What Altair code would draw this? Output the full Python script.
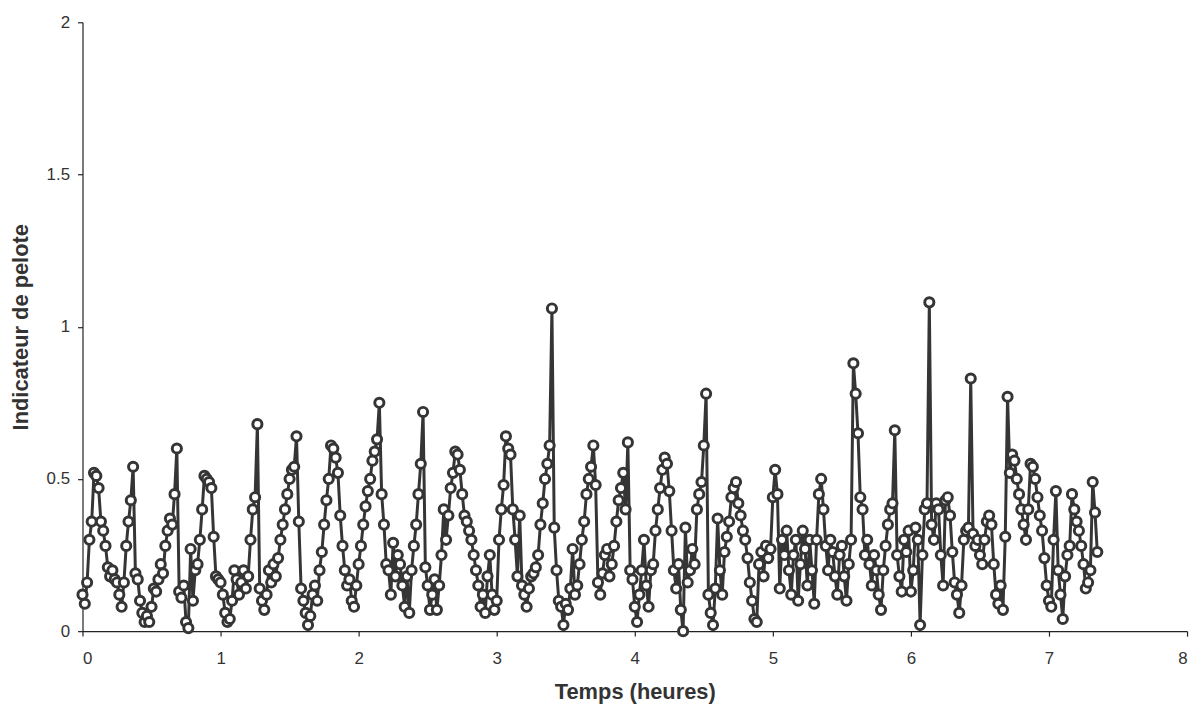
import altair as alt
import pandas as pd

# Indicateur de pelote, one reading per minute
hour0 = [0.12, 0.09, 0.16, 0.30, 0.36, 0.52, 0.51, 0.47, 0.36, 0.33,
         0.28, 0.21, 0.18, 0.20, 0.17, 0.16, 0.12, 0.08, 0.16, 0.28,
         0.36, 0.43, 0.54, 0.19, 0.17, 0.10, 0.06, 0.03, 0.05, 0.03,
         0.08, 0.14, 0.13, 0.17, 0.22, 0.19, 0.28, 0.33, 0.37, 0.35,
         0.45, 0.60, 0.13, 0.11, 0.15, 0.03, 0.01, 0.27, 0.10, 0.20,
         0.22, 0.30, 0.40, 0.51, 0.50, 0.49, 0.47, 0.31, 0.18, 0.17]
hour1 = [0.16, 0.12, 0.06, 0.03, 0.04, 0.10, 0.20, 0.17, 0.12, 0.16,
         0.20, 0.14, 0.18, 0.30, 0.40, 0.44, 0.68, 0.14, 0.10, 0.07,
         0.12, 0.20, 0.16, 0.22, 0.18, 0.24, 0.30, 0.35, 0.40, 0.45,
         0.50, 0.53, 0.54, 0.64, 0.36, 0.14, 0.10, 0.06, 0.02, 0.05,
         0.12, 0.15, 0.10, 0.20, 0.26, 0.35, 0.43, 0.50, 0.61, 0.60,
         0.57, 0.52, 0.38, 0.28, 0.20, 0.15, 0.17, 0.10, 0.08, 0.15]
hour2 = [0.22, 0.28, 0.35, 0.41, 0.46, 0.50, 0.56, 0.59, 0.63, 0.75,
         0.45, 0.35, 0.22, 0.20, 0.12, 0.29, 0.18, 0.25, 0.22, 0.15,
         0.08, 0.18, 0.06, 0.20, 0.28, 0.35, 0.45, 0.55, 0.72, 0.21,
         0.15, 0.07, 0.12, 0.17, 0.07, 0.15, 0.25, 0.40, 0.30, 0.38,
         0.47, 0.52, 0.59, 0.58, 0.53, 0.45, 0.38, 0.36, 0.33, 0.30,
         0.25, 0.20, 0.15, 0.08, 0.12, 0.06, 0.18, 0.25, 0.12, 0.07]
hour3 = [0.10, 0.30, 0.40, 0.48, 0.64, 0.60, 0.58, 0.40, 0.30, 0.18,
         0.38, 0.15, 0.12, 0.08, 0.14, 0.18, 0.19, 0.21, 0.25, 0.35,
         0.42, 0.50, 0.55, 0.61, 1.06, 0.34, 0.20, 0.10, 0.08, 0.02,
         0.09, 0.07, 0.14, 0.27, 0.12, 0.15, 0.22, 0.30, 0.36, 0.45,
         0.50, 0.54, 0.61, 0.48, 0.16, 0.12, 0.19, 0.25, 0.27, 0.18,
         0.22, 0.28, 0.36, 0.43, 0.47, 0.52, 0.40, 0.62, 0.20, 0.17]
hour4 = [0.08, 0.03, 0.12, 0.20, 0.30, 0.15, 0.08, 0.20, 0.22, 0.33,
         0.40, 0.47, 0.53, 0.57, 0.55, 0.46, 0.33, 0.20, 0.14, 0.22,
         0.07, 0.00, 0.34, 0.16, 0.20, 0.27, 0.22, 0.40, 0.45, 0.49,
         0.61, 0.78, 0.12, 0.06, 0.02, 0.14, 0.37, 0.20, 0.12, 0.26,
         0.31, 0.36, 0.44, 0.47, 0.49, 0.42, 0.38, 0.33, 0.30, 0.24,
         0.16, 0.10, 0.04, 0.03, 0.22, 0.26, 0.18, 0.28, 0.24, 0.27]
hour5 = [0.44, 0.53, 0.45, 0.14, 0.30, 0.25, 0.33, 0.20, 0.12, 0.25,
         0.30, 0.10, 0.22, 0.33, 0.27, 0.15, 0.30, 0.20, 0.09, 0.30,
         0.45, 0.50, 0.40, 0.28, 0.20, 0.30, 0.26, 0.18, 0.12, 0.25,
         0.28, 0.18, 0.10, 0.22, 0.30, 0.88, 0.78, 0.65, 0.44, 0.40,
         0.25, 0.30, 0.22, 0.15, 0.25, 0.20, 0.12, 0.07, 0.20, 0.28,
         0.35, 0.40, 0.42, 0.66, 0.25, 0.18, 0.13, 0.30, 0.26, 0.33]
hour6 = [0.13, 0.20, 0.34, 0.30, 0.02, 0.25, 0.40, 0.42, 1.08, 0.35,
         0.30, 0.42, 0.40, 0.25, 0.15, 0.43, 0.44, 0.38, 0.26, 0.16,
         0.12, 0.06, 0.15, 0.30, 0.33, 0.34, 0.83, 0.32, 0.28, 0.30,
         0.25, 0.22, 0.30, 0.36, 0.38, 0.35, 0.22, 0.12, 0.09, 0.15,
         0.07, 0.31, 0.77, 0.52, 0.58, 0.56, 0.50, 0.45, 0.40, 0.35,
         0.30, 0.40, 0.55, 0.54, 0.50, 0.44, 0.38, 0.33, 0.24, 0.15]
hour7 = [0.10, 0.08, 0.30, 0.46, 0.20, 0.12, 0.04, 0.18, 0.25, 0.28,
         0.45, 0.40, 0.36, 0.33, 0.28, 0.22, 0.14, 0.16, 0.20, 0.49,
         0.39, 0.26]

x_ticks = [0, 1, 2, 3, 4, 5, 6, 7, 8]
y_ticks = [0, 0.5, 1, 1.5, 2]

values = hour0 + hour1 + hour2 + hour3 + hour4 + hour5 + hour6 + hour7
minutes = list(range(len(values)))
df = pd.DataFrame({"minute": minutes, "value": values})

INK = "#353535"
TXT = "#333333"
FONT = "Liberation Sans"

x_enc = alt.X("t:Q",
              scale=alt.Scale(domain=[0, 8], nice=False, zero=True),
              axis=alt.Axis(values=x_ticks, title="Temps (heures)", grid=False,
                            tickSize=5, labelPadding=15, titlePadding=15,
                            format="d"))
y_enc = alt.Y("value:Q",
              scale=alt.Scale(domain=[0, 2], nice=False),
              axis=alt.Axis(values=y_ticks, title="Indicateur de pelote", grid=False,
                            tickSize=5, labelPadding=8, titlePadding=14,
                            format=".1~f"))

base = alt.Chart(df).transform_calculate(t="datum.minute / 60")

line = base.mark_line(color=INK, strokeWidth=3).encode(x=x_enc, y=y_enc)
pts = base.mark_point(shape="circle", filled=True, fill="white", stroke=INK,
                      strokeWidth=3, size=85, opacity=1).encode(x=x_enc, y=y_enc)

chart = (line + pts).properties(
    width=1112, height=613,
    autosize=alt.AutoSizeParams(type="none"),
    padding={"left": 75, "top": 12, "right": 7, "bottom": 76},
    background="white",
).configure_view(stroke=None).configure_axis(
    domainColor="#222222", tickColor="#222222", domainWidth=1.2, tickWidth=1.2,
    labelFont=FONT, labelFontSize=17, labelColor=TXT,
    titleFont=FONT, titleColor=TXT, titleFontWeight="bold", titleFontSize=22,
)

chart.save("out.html", embed_options={"renderer": "svg", "actions": False})
